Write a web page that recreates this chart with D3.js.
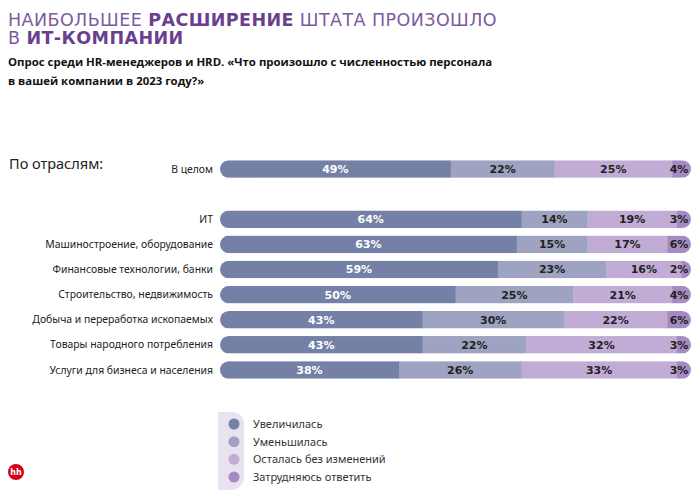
<!DOCTYPE html>
<html>
<head>
<meta charset="utf-8">
<script src="https://cdn.jsdelivr.net/npm/d3@7"></script>
<style>
  body { margin: 0; background: #fff; }
  svg { display: block; }
</style>
</head>
<body>
<div id="chart"></div>
<script>
// data
const categories = ['В целом', 'ИТ', 'Машиностроение, оборудование', 'Финансовые технологии, банки',
  'Строительство, недвижимость', 'Добыча и переработка ископаемых', 'Товары народного потребления',
  'Услуги для бизнеса и населения'];
const increased = [49, 64, 63, 59, 50, 43, 43, 38];
const decreased = [22, 14, 15, 23, 25, 30, 22, 26];
const unchanged = [25, 19, 17, 16, 21, 22, 32, 33];
const hardToSay = [4, 3, 6, 2, 4, 6, 3, 3];
const seriesNames = ['Увеличилась', 'Уменьшилась', 'Осталась без изменений', 'Затрудняюсь ответить'];

const width = 700, height = 499;
const colors = ['#7580a6', '#9da3c0', '#c1acd6', '#a68bc3'];

const svg = d3.select('#chart').append('svg')
  .attr('width', width)
  .attr('height', height);

// title (two lines, wide caps)
const titleLines = [
  [['НАИБОЛЬШЕЕ ', false], ['РАСШИРЕНИЕ', true], [' ШТАТА ПРОИЗОШЛО', false]],
  [['В ', false], ['ИТ-КОМПАНИИ', true]]
];
const titles = titleLines.map((parts, i) => {
  const t = svg.append('text')
    .attr('x', 8).attr('y', 25.5 + i * 18)
    .style('font-family', 'DejaVu Sans')
    .style('font-size', '17.5px')
    .style('fill', '#7d5a9f');
  parts.forEach(p => {
    t.append('tspan')
      .style('font-weight', p[1] ? 700 : 400)
      .style('fill', p[1] ? '#6a3f8f' : '#7d5a9f')
      .text(p[0]);
  });
  return t;
});
// stretch the first line to the reference width, reuse spacing for the second
const w0 = titles[0].node().getComputedTextLength();
const nChars = titleLines[0].map(p => p[0]).join('').length;
const ls = Math.max(0, (489 - w0) / nChars);
titles.forEach(t => t.style('letter-spacing', ls + 'px'));

// subtitle
['Опрос среди HR-менеджеров и HRD. «Что произошло с численностью персонала', 'в вашей компании в 2023 году?»']
  .forEach((line, i) => {
    svg.append('text')
      .attr('x', 8).attr('y', 66 + i * 18.5)
      .style('font-family', 'Open Sans')
      .style('font-weight', 700)
      .style('font-size', '11.4px')
      .style('fill', '#111')
      .text(line);
  });

svg.append('text')
  .attr('x', 9).attr('y', 169)
  .style('font-family', 'Noto Sans')
  .style('font-size', '14.5px')
  .style('fill', '#222')
  .text('По отраслям:');

// scales
const rowKeys = [categories[0], '__gap', ...categories.slice(1)];
const y = d3.scaleBand()
  .domain(rowKeys)
  .range([156.5, 382.5])
  .paddingInner(0.3)
  .paddingOuter(0.15);

const x = d3.scaleLinear()
  .domain([0, 100])
  .range([220, 691]);

const rows = categories.map((c, i) => {
  const vals = [increased[i], decreased[i], unchanged[i], hardToSay[i]];
  let acc = 0;
  return {
    name: c,
    segs: vals.map((v, k) => { const s = { v, k, x0: acc, x1: acc + v }; acc += v; return s; })
  };
});

const bh = y.bandwidth();

const defs = svg.append('defs');
rows.forEach((r, i) => {
  defs.append('clipPath').attr('id', 'clip' + i)
    .append('rect')
    .attr('x', x(0)).attr('y', y(r.name))
    .attr('width', x(100) - x(0)).attr('height', bh)
    .attr('rx', bh / 2);
});

const g = svg.selectAll('.row')
  .data(rows)
  .enter()
  .append('g')
  .attr('class', 'row')
  .attr('clip-path', (d, i) => `url(#clip${i})`);

g.selectAll('rect')
  .data(d => d.segs.map(s => Object.assign({ name: d.name }, s)))
  .enter()
  .append('rect')
  .attr('x', d => x(d.x0))
  .attr('y', d => y(d.name))
  .attr('width', d => x(d.x1) - x(d.x0) + (d.k < 3 ? 0.5 : 0))
  .attr('height', bh)
  .attr('fill', d => colors[d.k]);

// value labels
svg.selectAll('.rowlabels')
  .data(rows)
  .enter()
  .append('g')
  .selectAll('text')
  .data(d => d.segs.map(s => Object.assign({ name: d.name }, s)))
  .enter()
  .append('text')
  .attr('x', d => Math.min((x(d.x0) + x(d.x1)) / 2, 679))
  .attr('y', d => y(d.name) + bh / 2)
  .attr('dy', '.36em')
  .style('text-anchor', 'middle')
  .style('font-family', 'DejaVu Sans')
  .style('font-weight', 700)
  .style('font-size', '11px')
  .style('fill', d => d.k === 0 ? '#fff' : '#222')
  .text(d => d.v + '%');

// category labels
svg.selectAll('.cat')
  .data(rows)
  .enter()
  .append('text')
  .attr('x', 213)
  .attr('y', d => y(d.name) + bh / 2)
  .attr('dy', '.35em')
  .style('text-anchor', 'end')
  .style('font-family', 'Noto Sans')
  .style('font-size', '10.4px')
  .style('fill', '#222')
  .text(d => d.name);

// legend
svg.append('path')
  .attr('d', 'M218,412 L232,412 A12,12 0 0 1 244,424 L244,477 A13,13 0 0 1 231,490 L218,490 Z')
  .attr('fill', '#e9e2f1');

const ly = d3.scalePoint().domain(seriesNames).range([424, 477]);
const leg = svg.selectAll('.leg')
  .data(seriesNames)
  .enter()
  .append('g');
leg.append('circle')
  .attr('cx', 234)
  .attr('cy', d => ly(d))
  .attr('r', 5.5)
  .attr('fill', (d, i) => colors[i]);
leg.append('text')
  .attr('x', 253)
  .attr('y', d => ly(d))
  .attr('dy', '.35em')
  .style('font-family', 'Noto Sans')
  .style('font-size', '11px')
  .style('fill', '#333')
  .text(d => d);

// hh logo
svg.append('circle').attr('cx', 16).attr('cy', 472).attr('r', 8).attr('fill', '#d6001c');
svg.append('text')
  .attr('x', 16).attr('y', 472).attr('dy', '.35em')
  .style('text-anchor', 'middle')
  .style('font-family', 'DejaVu Sans')
  .style('font-weight', 700)
  .style('font-size', '8px')
  .style('fill', '#fff')
  .text('hh');
</script>
</body>
</html>
